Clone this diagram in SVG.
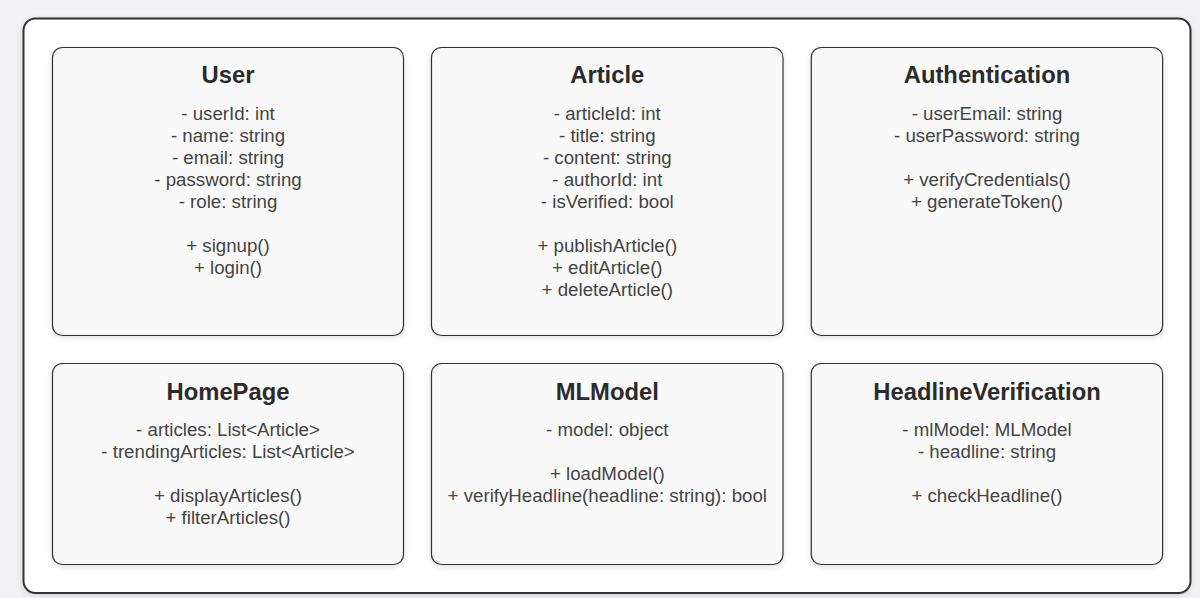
<svg xmlns="http://www.w3.org/2000/svg" width="1200" height="598" viewBox="0 0 1200 598">
<defs>
<style>
.bg{fill:#f2f2f5}
.frame{fill:#ffffff;stroke:#333333;stroke-width:2}
.box{fill:#f9f9f9;stroke:#333333;stroke-width:1.2}
.title{font-family:"Liberation Sans",Arial,sans-serif;font-size:23.8px;font-weight:bold;fill:#2b2b2b;text-anchor:middle}
.attr{font-family:"Liberation Sans",Arial,sans-serif;font-size:18.7px;fill:#444444;text-anchor:middle}
</style>
<filter id="sh" x="-10%" y="-10%" width="120%" height="120%">
<feDropShadow dx="0" dy="2" stdDeviation="3" flood-color="#000000" flood-opacity="0.12"/>
</filter>
</defs>
<rect class="bg" x="0" y="0" width="1200" height="598"/>
<rect class="frame" x="23.5" y="18.5" width="1167" height="574.5" rx="12" filter="url(#sh)"/>
<g id="connectors"></g>
<g id="User">
<rect class="box" x="52.5" y="47.5" width="351" height="288" rx="10" filter="url(#sh)"/>
<text class="title" x="228" y="82.5">User</text>
<text class="attr" x="228" y="119.5">- userId: int</text>
<text class="attr" x="228" y="141.5">- name: string</text>
<text class="attr" x="228" y="163.5">- email: string</text>
<text class="attr" x="228" y="185.5">- password: string</text>
<text class="attr" x="228" y="207.5">- role: string</text>
<text class="attr" x="228" y="251.5">+ signup()</text>
<text class="attr" x="228" y="273.5">+ login()</text>
</g>
<g id="Article">
<rect class="box" x="431.5" y="47.5" width="351.5" height="288" rx="10" filter="url(#sh)"/>
<text class="title" x="607.3" y="82.5">Article</text>
<text class="attr" x="607.3" y="119.5">- articleId: int</text>
<text class="attr" x="607.3" y="141.5">- title: string</text>
<text class="attr" x="607.3" y="163.5">- content: string</text>
<text class="attr" x="607.3" y="185.5">- authorId: int</text>
<text class="attr" x="607.3" y="207.5">- isVerified: bool</text>
<text class="attr" x="607.3" y="251.5">+ publishArticle()</text>
<text class="attr" x="607.3" y="273.5">+ editArticle()</text>
<text class="attr" x="607.3" y="295.5">+ deleteArticle()</text>
</g>
<g id="Authentication">
<rect class="box" x="811.3" y="47.5" width="351.3" height="288" rx="10" filter="url(#sh)"/>
<text class="title" x="987" y="82.5">Authentication</text>
<text class="attr" x="987" y="119.5">- userEmail: string</text>
<text class="attr" x="987" y="141.5">- userPassword: string</text>
<text class="attr" x="987" y="185.5">+ verifyCredentials()</text>
<text class="attr" x="987" y="207.5">+ generateToken()</text>
</g>
<g id="HomePage">
<rect class="box" x="52.5" y="363.5" width="351" height="201" rx="10" filter="url(#sh)"/>
<text class="title" x="228" y="399.5">HomePage</text>
<text class="attr" x="228" y="436">- articles: List&lt;Article&gt;</text>
<text class="attr" x="228" y="458">- trendingArticles: List&lt;Article&gt;</text>
<text class="attr" x="228" y="502">+ displayArticles()</text>
<text class="attr" x="228" y="524">+ filterArticles()</text>
</g>
<g id="MLModel">
<rect class="box" x="431.5" y="363.5" width="351.5" height="201" rx="10" filter="url(#sh)"/>
<text class="title" x="607.3" y="399.5">MLModel</text>
<text class="attr" x="607.3" y="436">- model: object</text>
<text class="attr" x="607.3" y="480">+ loadModel()</text>
<text class="attr" x="607.3" y="502">+ verifyHeadline(headline: string): bool</text>
</g>
<g id="HeadlineVerification">
<rect class="box" x="811.3" y="363.5" width="351.3" height="201" rx="10" filter="url(#sh)"/>
<text class="title" x="987" y="399.5">HeadlineVerification</text>
<text class="attr" x="987" y="436">- mlModel: MLModel</text>
<text class="attr" x="987" y="458">- headline: string</text>
<text class="attr" x="987" y="502">+ checkHeadline()</text>
</g>
</svg>
